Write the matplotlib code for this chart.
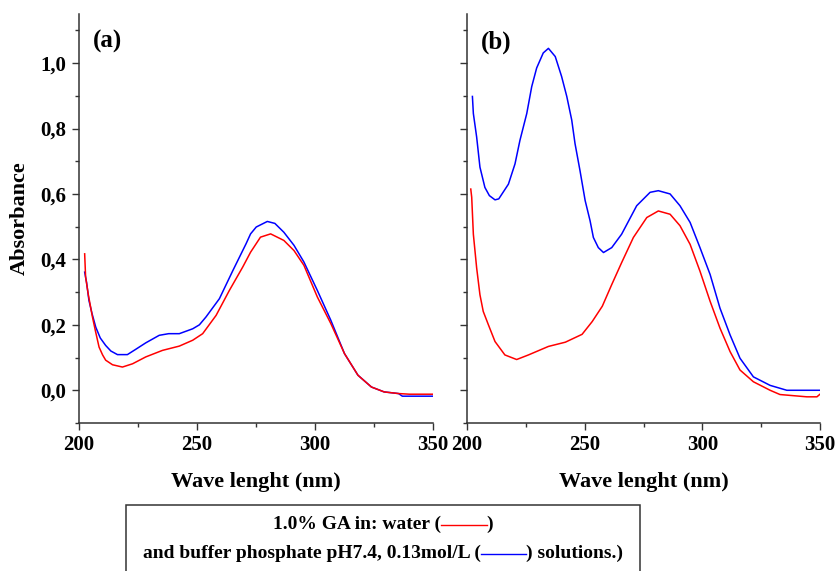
import matplotlib
matplotlib.use("Agg")
import matplotlib.pyplot as plt
from matplotlib.lines import Line2D
from matplotlib.patches import Rectangle
from matplotlib.offsetbox import TextArea, DrawingArea, HPacker, VPacker, AnnotationBbox
from matplotlib.ticker import MultipleLocator, FuncFormatter

plt.rcParams["font.family"] = ["Liberation Serif", "DejaVu Serif"]
plt.rcParams["font.weight"] = "bold"

# panel (a)
wl_a_water = [202.4, 202.8, 204.0, 205.7, 207.0, 208.5, 210.0, 211.3, 214.2, 218.4, 222.7, 228.3,
              235.4, 242.5, 248.2, 252.4, 258.1, 263.7, 269.4, 272.7, 276.9, 281.2, 286.8, 291.1,
              295.3, 301.0, 306.7, 312.5, 318.2, 323.9, 329.3, 335.4, 340.0, 345.0, 350.0]
abs_a_water = [0.417, 0.346, 0.29, 0.224, 0.18, 0.132, 0.108, 0.092, 0.078, 0.071, 0.081, 0.102,
               0.122, 0.135, 0.153, 0.173, 0.229, 0.305, 0.377, 0.422, 0.468, 0.478, 0.458, 0.427,
               0.382, 0.285, 0.204, 0.112, 0.046, 0.010, -0.005, -0.010, -0.012, -0.012, -0.012]

wl_a_buffer = [202.4, 203.2, 204.2, 205.5, 207.1, 209.0, 211.3, 213.5, 216.3, 220.5, 224.0, 228.3,
               234.0, 238.0, 242.5, 248.2, 251.0, 253.8, 259.5, 265.2, 270.8, 272.7, 275.1, 279.8,
               283.0, 286.8, 291.1, 295.3, 301.0, 306.7, 312.5, 318.2, 323.9, 329.3, 335.4, 337.0, 350.0]
abs_a_buffer = [0.361, 0.33, 0.275, 0.235, 0.193, 0.16, 0.137, 0.12, 0.109, 0.109, 0.125, 0.145,
                0.168, 0.173, 0.173, 0.188, 0.2, 0.224, 0.28, 0.366, 0.448, 0.478, 0.499, 0.516,
                0.51, 0.483, 0.443, 0.392, 0.305, 0.214, 0.112, 0.046, 0.010, -0.005, -0.010, -0.018, -0.018]

# panel (b)
wl_b_water = [201.6, 202.0, 202.7, 204.1, 205.5, 206.9, 209.1, 211.9, 216.1, 221.1, 226.1, 234.6,
              241.8, 248.9, 253.2, 257.5, 261.5, 265.7, 270.7, 276.4, 281.3, 286.3, 290.5, 294.8,
              299.0, 303.3, 307.5, 311.8, 316.0, 321.7, 328.8, 333.0, 344.4, 348.7, 350.0]
abs_b_water = [0.615, 0.59, 0.477, 0.374, 0.292, 0.241, 0.2, 0.149, 0.108, 0.094, 0.108, 0.134,
               0.147, 0.171, 0.21, 0.257, 0.323, 0.39, 0.467, 0.528, 0.548, 0.538, 0.503, 0.446,
               0.364, 0.272, 0.19, 0.118, 0.062, 0.026, 0.0, -0.013, -0.02, -0.02, -0.012]

wl_b_buffer = [202.3, 202.7, 204.1, 205.5, 207.6, 209.5, 211.9, 213.5, 217.6, 220.4, 222.5, 225.4,
               227.5, 229.6, 232.4, 234.6, 237.5, 240.2, 242.4, 244.5, 245.9, 248.0, 250.2, 252.3,
               253.7, 255.8, 258.0, 261.5, 265.7, 272.1, 277.8, 281.3, 286.3, 290.5, 294.8, 299.0,
               303.3, 307.5, 311.8, 316.0, 321.7, 328.8, 335.9, 350.0]
abs_b_buffer = [0.898, 0.846, 0.774, 0.682, 0.62, 0.595, 0.582, 0.585, 0.63, 0.692, 0.764, 0.846,
                0.928, 0.985, 1.031, 1.045, 1.02, 0.959, 0.898, 0.826, 0.754, 0.672, 0.58, 0.518,
                0.467, 0.436, 0.421, 0.436, 0.477, 0.564, 0.605, 0.61, 0.60, 0.564, 0.513, 0.436,
                0.354, 0.251, 0.169, 0.098, 0.041, 0.015, 0.0, 0.0]

panel_labels = ["(a)", "(b)"]
x_ticks = [200, 250, 300, 350]
legend_line1 = ("1.0% GA in: water (", ")")
legend_line2 = ("and buffer phosphate pH7.4, 0.13mol/L (", ") solutions.)")

RED = "#ff0000"
BLUE = "#0000ff"
FS_TICK = 15
FS_LABEL = 16
FS_LEG = 14

fig = plt.figure(figsize=(8.35, 5.71), dpi=100)
ax_a = fig.add_axes([79 / 835, 1 - 423 / 571, 354 / 835, 409 / 571])
ax_b = fig.add_axes([467 / 835, 1 - 423 / 571, 353 / 835, 409 / 571])

comma = FuncFormatter(lambda v, p: f"{v:.1f}".replace(".", ","))

for ax, lab, data in [
    (ax_a, panel_labels[0], (wl_a_water, abs_a_water, wl_a_buffer, abs_a_buffer)),
    (ax_b, panel_labels[1], (wl_b_water, abs_b_water, wl_b_buffer, abs_b_buffer)),
]:
    ax.plot(data[2], data[3], color=BLUE, lw=1.1)
    ax.plot(data[0], data[1], color=RED, lw=1.1)
    ax.set_xlim(200, 350)
    ax.set_ylim(-0.1, 1.15)
    ax.set_xticks(x_ticks)
    ax.xaxis.set_minor_locator(MultipleLocator(25))
    ax.yaxis.set_major_locator(MultipleLocator(0.2))
    ax.yaxis.set_minor_locator(MultipleLocator(0.1))
    ax.yaxis.set_major_formatter(comma)
    for s in ["top", "right"]:
        ax.spines[s].set_visible(False)
    for s in ["left", "bottom"]:
        ax.spines[s].set_linewidth(1.1)
        ax.spines[s].set_color("#333333")
    ax.tick_params(which="major", direction="out", length=5, width=1.0, labelsize=FS_TICK,
                   color="#333333", pad=4)
    ax.tick_params(which="minor", direction="out", length=2.6, width=1.0, color="#333333")
    ax.set_xlabel("Wave lenght (nm)", fontsize=FS_LABEL, fontweight="bold", labelpad=12)
    ax.text(0.04, 0.96, lab, transform=ax.transAxes, fontsize=18, fontweight="bold",
            va="top", ha="left")

ax_a.set_ylabel("Absorbance", fontsize=FS_LABEL, fontweight="bold", labelpad=8)
ax_b.tick_params(axis="y", which="both", labelleft=False)


def sample(color):
    da = DrawingArea(33, 10, 0, 0)
    da.add_artist(Line2D([0, 33], [4.5, 4.5], color=color, lw=1.0))
    return da


tp = dict(fontsize=FS_LEG, fontweight="bold")
row1 = HPacker(children=[TextArea(legend_line1[0], textprops=tp), sample(RED),
                         TextArea(legend_line1[1], textprops=tp)], align="center", pad=0, sep=0)
row2 = HPacker(children=[TextArea(legend_line2[0], textprops=tp), sample(BLUE),
                         TextArea(legend_line2[1], textprops=tp)], align="center", pad=0, sep=0)
box = VPacker(children=[row1, row2], align="center", pad=0, sep=8)
ab = AnnotationBbox(box, (383 / 835, 1 - 539 / 571), xycoords="figure fraction",
                    box_alignment=(0.5, 0.5), frameon=False)
fig.add_artist(ab)

fig.add_artist(Rectangle((126 / 835, -0.05), 514 / 835, 0.05 + 66 / 571, transform=fig.transFigure,
                         fill=False, lw=1.1, edgecolor="#333333", clip_on=False))

fig.savefig("out.png", dpi=100)
